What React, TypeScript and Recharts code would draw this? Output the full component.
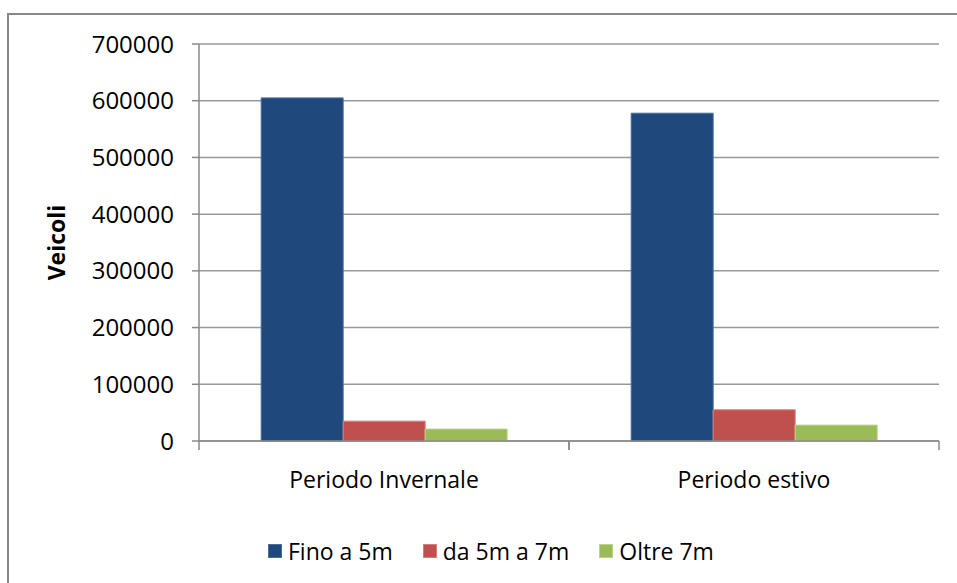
import { Bar, BarChart, CartesianGrid, Legend, XAxis, YAxis } from 'recharts';

const categories = ['Periodo Invernale', 'Periodo estivo'];
const finoA5m = [605000, 578000];
const da5mA7m = [35000, 55000];
const oltre7m = [21000, 28000];
const yTicks = [0, 100000, 200000, 300000, 400000, 500000, 600000, 700000];

const series = [
  { key: 'fino', name: 'Fino a 5m', values: finoA5m, color: '#1F497D', edge: '#4A6F9E' },
  { key: 'da', name: 'da 5m a 7m', values: da5mA7m, color: '#C0504D', edge: '#D87E7B' },
  { key: 'oltre', name: 'Oltre 7m', values: oltre7m, color: '#9BBB59', edge: '#B9D388' },
];

const data = categories.map((label, i) => {
  const row: Record<string, string | number> = { label };
  series.forEach((s) => {
    row[s.key] = s.values[i];
  });
  return row;
});

const font = '"Open Sans", sans-serif';
const X_TICK_GAP = 31;

// category labels in the middle, tick marks on the band edges (Excel style)
function CategoryTick(props: any) {
  const { x, y, payload } = props;
  const half = payload?.offset ?? 0;
  const axisY = y - X_TICK_GAP;
  return (
    <g>
      <line x1={x - half} x2={x - half} y1={axisY} y2={axisY + 9} stroke="#888" strokeWidth={1.5} />
      <line x1={x + half} x2={x + half} y1={axisY} y2={axisY + 9} stroke="#888" strokeWidth={1.5} />
      <text x={x} y={y} dy="0.71em" textAnchor="middle" fill="#000" fontSize={23} fontFamily={font}>
        {payload.value}
      </text>
    </g>
  );
}

function LegendBox() {
  return (
    <div style={{ display: 'flex', alignItems: 'center', fontFamily: font, fontSize: 23, color: '#000' }}>
      {series.map((s) => (
        <div key={s.key} style={{ display: 'flex', alignItems: 'center', marginRight: 30 }}>
          <span
            style={{
              display: 'inline-block',
              width: 12,
              height: 12,
              background: s.color,
              border: `1px solid ${s.edge}`,
              marginRight: 6,
            }}
          />
          <span>{s.name}</span>
        </div>
      ))}
    </div>
  );
}

export default function App() {
  return (
    <div style={{ position: 'absolute', left: 0, top: 0, width: 957, height: 583, overflow: 'hidden', background: '#fff' }}>
      <div
        style={{
          position: 'absolute',
          left: 7,
          top: 13,
          width: 1000,
          height: 1000,
          border: '2px solid #888',
        }}
      />
      <BarChart
        width={957}
        height={583}
        data={data}
        margin={{ top: 44, right: 18, bottom: 141, left: 0 }}
        barCategoryGap="16.8%"
        barGap={0}
        style={{ position: 'absolute', left: 0, top: 0 }}
      >
        <CartesianGrid vertical={false} stroke="#999" strokeWidth={1.5} />
        <XAxis
          dataKey="label"
          height={1}
          tickLine={false}
          axisLine={{ stroke: '#888', strokeWidth: 1.5 }}
          tickSize={0}
          tickMargin={X_TICK_GAP}
          tick={(p: any) => <CategoryTick {...p} />}
        />
        <YAxis
          width={199}
          domain={[0, 700000]}
          ticks={yTicks}
          interval={0}
          axisLine={{ stroke: '#888', strokeWidth: 1.5 }}
          tickLine={{ stroke: '#888', strokeWidth: 1.5 }}
          tickSize={7}
          tickMargin={18}
          tick={{ fill: '#000', fontSize: 24, fontFamily: font }}
          label={{
            value: 'Veicoli',
            angle: -90,
            position: 'center',
            dx: -43,
            fill: '#000',
            fontSize: 23,
            fontWeight: 'bold',
            fontFamily: font,
          }}
        />
        <Legend
          verticalAlign="middle"
          content={() => <LegendBox />}
          wrapperStyle={{ left: 268, top: 535, width: 'auto' }}
        />
        {series.map((s) => (
          <Bar
            key={s.key}
            dataKey={s.key}
            name={s.name}
            fill={s.color}
            stroke={s.edge}
            strokeWidth={1}
            isAnimationActive={false}
          />
        ))}
      </BarChart>
    </div>
  );
}
